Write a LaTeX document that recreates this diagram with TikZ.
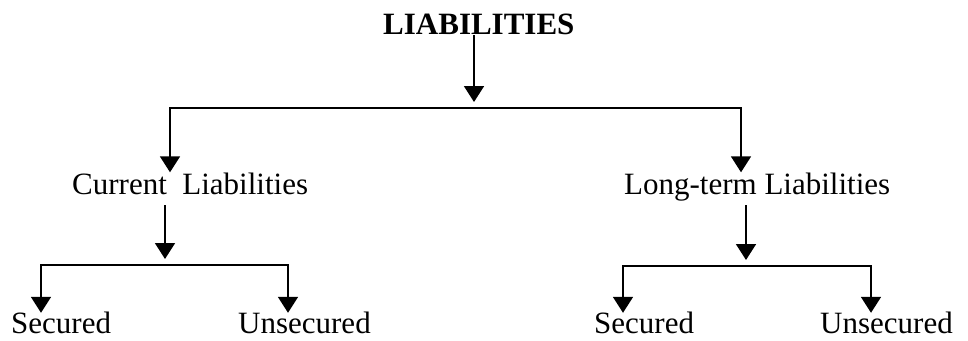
\documentclass[tikz,border=0pt]{standalone}
\usepackage{fontspec}
\setmainfont{Liberation Serif}
\usetikzlibrary{arrows.meta}
\tikzset{
  lbl/.style={inner sep=0pt, anchor=base west, font=\fontsize{31}{36}\selectfont},
  arr/.style={line width=1.8pt, -{Triangle[width=20pt,length=16pt]}},
  hbar/.style={line width=2.5pt, line cap=rect},
  drop/.style={line width=1.8pt, -{Triangle[width=20pt,length=16pt]}}
}
\begin{document}
\begin{tikzpicture}[x=1pt,y=-1pt]
\useasboundingbox (0,0) rectangle (968,340);
% nodes
\node[lbl, font=\fontsize{31}{36}\selectfont\bfseries] (L) at (383,34) {LIABILITIES};
\node[lbl] (CL) at (72,194) {Current\hspace{0.5em}Liabilities};
\node[lbl] (LL) at (624,194) {Long-term Liabilities};
\node[lbl] (S1) at (11,333.5) {Secured};
\node[lbl] (U1) at (238,333.5) {Unsecured};
\node[lbl] (S2) at (594,333.5) {Secured};
\node[lbl] (U2) at (820,333.5) {Unsecured};
% junction coordinates
\coordinate (j0) at (474,108);
\coordinate (b0l) at (170,108);
\coordinate (b0r) at (741,108);
\coordinate (j1) at (165,265);
\coordinate (b1l) at (41,265);
\coordinate (b1r) at (288,265);
\coordinate (j2) at (746,266);
\coordinate (b2l) at (623,266);
\coordinate (b2r) at (871,266);
% level 1
\draw[arr, shorten <=1pt, shorten >=6pt] (L.base -| j0) -- (j0);
\draw[hbar] (b0l) -- (b0r);
\draw[drop, shorten >=0pt] (b0l) -- (CL.north -| b0l);
\draw[drop, shorten >=0pt] (b0r) -- (LL.north -| b0r);
% level 2 left
\draw[arr, shorten <=11pt, shorten >=6pt] (CL.base -| j1) -- (j1);
\draw[hbar] (b1l) -- (b1r);
\draw[drop, shorten >=-1pt] (b1l) -- (S1.north -| b1l);
\draw[drop, shorten >=-1pt] (b1r) -- (U1.north -| b1r);
% level 2 right
\draw[arr, shorten <=11pt, shorten >=6pt] (LL.base -| j2) -- (j2);
\draw[hbar] (b2l) -- (b2r);
\draw[drop, shorten >=-1pt] (b2l) -- (S2.north -| b2l);
\draw[drop, shorten >=-1pt] (b2r) -- (U2.north -| b2r);
\end{tikzpicture}
\end{document}
